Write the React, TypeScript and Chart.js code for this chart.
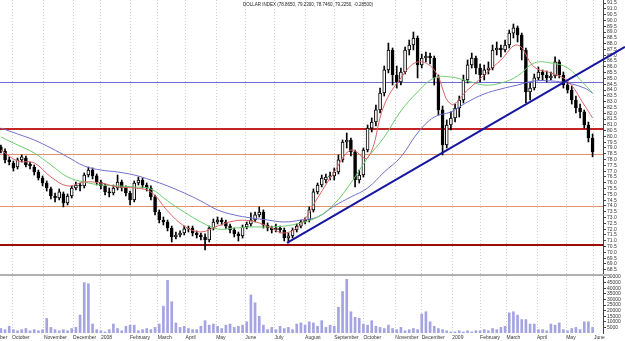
import { useEffect, useRef } from 'react';
import { Chart, registerables } from 'chart.js';
Chart.register(...registerables);

const title = 'DOLLAR INDEX (78.8650, 79.2300, 78.7460, 79.2250, -0.28500)';

const monthTickDays = [-21, 0, 23, 44, 64, 85, 105, 125, 147, 168, 189, 211, 232, 253, 276, 295, 317, 337, 356, 378, 399, 419];
const monthLabels = ['September', 'October', 'November', 'December', '2008', 'February', 'March', 'April', 'May', 'June', 'July', 'August', 'September', 'October', 'November', 'December', '2009', 'February', 'March', 'April', 'May', 'June'];

const candleDays = Array.from({ length: 143 }, (_, i) => -8 + 3 * i);

const opens = [
  79.09, 78.74, 77.97, 77.71, 77.36, 77.97, 78.14, 77.62, 77.36, 76.93,
  76.41, 75.98, 75.47, 74.86, 74.69, 75.04, 74.26, 74.86, 75.55, 75.81,
  75.73, 76.67, 77.10, 76.59, 76.07, 75.73, 75.21, 75.12, 75.55, 76.07,
  75.55, 75.12, 74.52, 75.98, 76.24, 75.81, 75.55, 74.78, 73.48, 72.79,
  72.62, 72.10, 71.33, 71.50, 71.67, 72.02, 72.10, 71.67, 71.50, 71.33,
  71.07, 72.10, 72.62, 72.79, 72.62, 72.27, 71.93, 71.59, 71.42, 72.19,
  72.45, 72.79, 73.23, 73.48, 72.36, 72.10, 71.93, 72.10, 71.93, 71.24,
  71.42, 71.93, 72.27, 72.62, 72.79, 73.66, 75.21, 75.81, 76.24, 76.50,
  76.59, 76.93, 77.97, 79.52, 79.69, 78.66, 76.24, 76.67, 78.83, 80.72,
  81.24, 82.28, 83.74, 85.73, 87.45, 85.29, 84.69, 85.55, 87.45, 87.88,
  88.48, 86.16, 86.76, 86.93, 86.76, 85.04, 82.28, 79.26, 80.98, 81.59,
  82.45, 83.14, 84.86, 86.16, 86.76, 85.90, 85.29, 85.73, 85.90, 87.45,
  87.62, 87.45, 87.88, 88.91, 89.35, 88.74, 87.45, 83.83, 84.17, 85.04,
  85.55, 85.29, 85.04, 85.21, 86.42, 85.29, 84.43, 84.00, 83.14, 82.45,
  82.11, 80.98, 79.86,
];
const highs = [
  79.26, 78.92, 78.23, 77.88, 78.14, 78.40, 78.31, 77.79, 77.54, 77.10,
  76.59, 76.16, 75.64, 75.12, 75.47, 75.21, 75.04, 75.73, 76.07, 75.98,
  76.85, 77.36, 77.28, 76.76, 76.24, 75.90, 75.55, 75.81, 76.67, 76.24,
  75.73, 75.29, 76.16, 76.50, 76.41, 75.98, 75.73, 74.95, 73.66, 73.05,
  72.79, 72.27, 71.76, 71.85, 72.27, 72.27, 72.27, 71.85, 71.67, 71.59,
  72.27, 72.88, 73.05, 72.97, 72.79, 72.45, 72.10, 71.76, 72.36, 72.62,
  73.40, 73.48, 73.92, 73.66, 72.54, 72.27, 72.45, 72.27, 72.10, 71.67,
  72.10, 72.45, 72.79, 72.97, 73.92, 75.47, 75.98, 76.67, 76.76, 76.93,
  77.28, 78.40, 79.69, 80.29, 79.86, 78.83, 77.10, 79.00, 80.98, 81.59,
  82.71, 84.17, 86.07, 88.05, 87.62, 86.07, 85.90, 87.71, 88.31, 89.00,
  88.66, 87.10, 87.28, 87.19, 86.93, 85.29, 82.62, 81.42, 82.11, 82.79,
  83.48, 85.29, 86.59, 87.19, 86.93, 86.24, 86.16, 86.42, 87.88, 88.14,
  87.88, 88.31, 89.17, 89.69, 89.52, 88.91, 87.62, 84.60, 85.38, 85.98,
  85.73, 85.64, 85.55, 86.85, 86.59, 85.55, 84.69, 84.35, 83.48, 82.79,
  82.28, 81.24, 80.21,
];
const lows = [
  78.57, 77.71, 77.54, 77.02, 77.19, 77.79, 77.36, 77.19, 76.67, 76.24,
  75.73, 75.29, 74.60, 74.35, 74.52, 73.92, 74.09, 74.69, 75.38, 75.29,
  75.55, 76.50, 76.33, 75.81, 75.47, 74.95, 74.78, 74.95, 75.38, 75.29,
  74.86, 74.09, 74.35, 75.81, 75.55, 75.29, 74.52, 73.23, 72.54, 72.36,
  71.85, 70.90, 71.16, 71.33, 71.50, 71.76, 71.42, 71.24, 71.07, 70.21,
  70.90, 71.93, 72.45, 72.36, 72.02, 71.67, 71.33, 70.98, 71.24, 72.02,
  72.27, 72.62, 73.05, 72.10, 71.85, 71.67, 71.76, 71.67, 70.98, 70.81,
  71.24, 71.76, 72.10, 72.45, 72.62, 73.48, 75.04, 75.64, 75.98, 76.24,
  76.24, 76.76, 77.79, 79.00, 78.31, 75.64, 75.98, 76.50, 78.66, 80.38,
  80.90, 82.02, 83.48, 85.47, 84.43, 84.17, 84.43, 85.38, 87.02, 87.45,
  85.04, 85.90, 86.42, 86.24, 84.43, 81.85, 78.40, 79.00, 80.55, 81.24,
  81.67, 82.88, 84.60, 85.90, 85.38, 84.69, 84.86, 85.38, 85.73, 87.02,
  86.85, 87.28, 87.62, 88.48, 88.14, 86.59, 82.88, 83.14, 84.00, 84.86,
  84.86, 84.69, 84.86, 85.04, 85.04, 84.17, 83.74, 82.79, 82.02, 81.59,
  80.72, 79.52, 78.23,
];
const closes = [
  78.74, 77.97, 77.79, 77.28, 77.97, 78.23, 77.54, 77.45, 76.93, 76.41,
  75.98, 75.55, 74.86, 74.69, 75.21, 74.26, 74.86, 75.55, 75.81, 75.73,
  76.67, 77.10, 76.59, 76.07, 75.73, 75.21, 75.12, 75.55, 76.07, 75.55,
  75.12, 74.52, 75.98, 76.24, 75.81, 75.55, 74.78, 73.48, 72.79, 72.62,
  72.10, 71.33, 71.50, 71.67, 72.02, 72.10, 71.67, 71.50, 71.33, 71.07,
  72.10, 72.62, 72.79, 72.62, 72.27, 71.93, 71.59, 71.42, 72.19, 72.45,
  72.79, 73.23, 73.48, 72.36, 72.10, 71.93, 72.10, 71.93, 71.24, 71.42,
  71.93, 72.27, 72.62, 72.79, 73.66, 75.21, 75.81, 76.41, 76.50, 76.59,
  76.93, 77.97, 79.52, 79.69, 78.66, 76.24, 76.67, 78.83, 80.72, 81.24,
  82.28, 83.74, 85.73, 87.45, 85.29, 84.69, 85.55, 87.45, 87.88, 88.48,
  86.16, 86.76, 86.93, 86.76, 85.04, 82.28, 79.26, 80.98, 81.59, 82.45,
  83.14, 84.86, 86.16, 86.76, 85.90, 85.29, 85.73, 85.90, 87.45, 87.62,
  87.45, 87.88, 88.91, 89.35, 88.74, 87.45, 83.83, 84.17, 85.04, 85.55,
  85.29, 85.04, 85.21, 86.42, 85.29, 84.43, 84.00, 83.14, 82.45, 82.11,
  80.98, 79.86, 78.66,
];
const volumes = [
  4000, 3000, 6000, 3000, 2000, 3000, 4000, 2000, 3000, 2000,
  3000, 13000, 5000, 3000, 2000, 3000, 2000, 4000, 5000, 16000,
  45000, 44000, 8000, 3000, 2000, 1000, 3000, 8000, 4000, 2000,
  6000, 7000, 7000, 2000, 3000, 4000, 3000, 5000, 8000, 24000,
  47000, 28000, 9000, 5000, 6000, 4000, 3000, 3000, 6000, 11000,
  7000, 8000, 6000, 4000, 7000, 8000, 5000, 6000, 7000, 10000,
  34000, 27000, 15000, 7000, 3000, 5000, 3000, 6000, 4000, 5000,
  3000, 8000, 9000, 7000, 10000, 9000, 6000, 11000, 5000, 7000,
  6000, 23000, 37000, 48000, 19000, 14000, 13000, 8000, 7000, 11000,
  6000, 5000, 4000, 7000, 4000, 3000, 5000, 2000, 3000, 4000,
  3000, 17000, 19000, 10000, 6000, 4000, 3000, 2000, 1000, 1000,
  2000, 1000, 2000, 1000, 2000, 2000, 3000, 2000, 4000, 3000,
  5000, 6000, 18000, 19000, 16000, 12000, 12000, 8000, 8000, 3000,
  3000, 2000, 8000, 7000, 9000, 3000, 2000, 4000, 5000, 3000,
  10000, 10000, 5000,
];

const maDays = [...Array.from({ length: 36 }, (_, k) => -8 + 12 * k), 418];
const maShort = [
  78.83, 77.88, 77.71, 76.50, 75.73, 76.07, 75.98, 75.64, 75.55, 75.21,
  73.57, 72.27, 71.76, 72.27, 72.71, 72.71, 72.27, 71.67, 72.45, 74.69,
  76.93, 78.83, 78.14, 82.71, 85.04, 86.42, 85.73, 82.79, 84.00, 85.29,
  86.59, 87.88, 85.98, 85.47, 84.78, 82.71, 81.59,
];
const maMid = [
  79.95, 79.26, 78.57, 77.54, 76.50, 76.07, 75.81, 75.73, 75.64, 75.47,
  74.43, 73.48, 72.62, 72.02, 72.10, 72.19, 72.19, 72.27, 72.54, 73.05,
  74.17, 75.98, 78.14, 79.95, 82.19, 83.83, 85.04, 85.12, 84.78, 84.43,
  84.60, 85.21, 86.33, 86.33, 85.90, 84.52, 83.74,
];
const maLong = [
  80.72, 80.21, 79.69, 79.00, 78.23, 77.45, 77.10, 76.93, 76.67, 76.24,
  75.73, 75.12, 74.43, 73.66, 73.23, 72.97, 72.79, 72.62, 72.79, 73.05,
  74.00, 74.78, 75.55, 76.93, 78.23, 80.29, 81.67, 82.11, 82.97, 83.66,
  84.09, 84.43, 84.78, 84.78, 84.60, 84.17, 83.74,
];

const levelValues = [84.69, 80.6, 78.48, 73.96, 70.64];
const levelStyles = [
  { color: '#6c6cd4', width: 1 },
  { color: '#c42424', width: 2 },
  { color: '#e4926c', width: 1 },
  { color: '#e4926c', width: 1 },
  { color: '#9c0a0a', width: 2 },
];

const trendDays = [198, 441.3];
const trendValues = [70.81, 87.71];

const priceTicks = [68.5, 69, 69.5, 70, 70.5, 71, 71.5, 72, 72.5, 73, 73.5, 74, 74.5, 75, 75.5, 76, 76.5, 77, 77.5, 78, 78.5, 79, 79.5, 80, 80.5, 81, 81.5, 82, 82.5, 83, 83.5, 84, 84.5, 85, 85.5, 86, 86.5, 87, 87.5, 88, 88.5, 89, 89.5, 90, 90.5, 91, 91.5];
const volumeTicks = [5000, 10000, 15000, 20000, 25000, 30000, 35000, 40000, 45000, 50000];

const FONT = 'Liberation Sans';

export default function App() {
  const ref = useRef<HTMLCanvasElement | null>(null);

  useEffect(() => {
    if (!ref.current) return;
    document.body.style.margin = '0';

    const overlay = {
      id: 'overlay',
      beforeDatasetsDraw(chart: any) {
        const { ctx, chartArea, scales } = chart;
        ctx.save();
        levelValues.forEach((v, i) => {
          const py = Math.round(scales.y.getPixelForValue(v)) + (levelStyles[i].width === 1 ? 0.5 : 0);
          ctx.strokeStyle = levelStyles[i].color;
          ctx.lineWidth = levelStyles[i].width;
          ctx.beginPath();
          ctx.moveTo(chartArea.left, py);
          ctx.lineTo(chartArea.right, py);
          ctx.stroke();
        });
        ctx.restore();
      },
      afterDraw(chart: any) {
        const { ctx, chartArea, scales } = chart;
        const sep = scales.y.bottom;
        ctx.save();
        ctx.strokeStyle = '#b0b0b0';
        ctx.lineWidth = 2;
        ctx.beginPath();
        ctx.moveTo(0, sep);
        ctx.lineTo(chartArea.right + 8, sep);
        ctx.stroke();
        ctx.fillStyle = '#222';
        ctx.font = `4.5px "${FONT}"`;
        ctx.textAlign = 'center';
        ctx.textBaseline = 'middle';
        ctx.fillText(title, 308, 5);
        ctx.restore();
      },
    };

    const yTickFont = { size: 5, family: FONT };

    const chart = new Chart(ref.current, {
      type: 'bar',
      data: {
        datasets: [
          {
            type: 'line',
            data: trendDays.map((d, i) => ({ x: d, y: trendValues[i] })),
            borderColor: '#1616a0',
            borderWidth: 2,
            pointRadius: 0,
            yAxisID: 'y',
            clip: false,
            order: 0,
          } as any,
          {
            type: 'line',
            data: maDays.map((d, i) => ({ x: d, y: maShort[i] })),
            borderColor: '#dc6464',
            borderWidth: 1,
            pointRadius: 0,
            tension: 0.4,
            yAxisID: 'y',
            order: 1,
          },
          {
            type: 'line',
            data: maDays.map((d, i) => ({ x: d, y: maMid[i] })),
            borderColor: '#6ccc6c',
            borderWidth: 1,
            pointRadius: 0,
            tension: 0.4,
            yAxisID: 'y',
            order: 1,
          },
          {
            type: 'line',
            data: maDays.map((d, i) => ({ x: d, y: maLong[i] })),
            borderColor: '#7070cc',
            borderWidth: 1,
            pointRadius: 0,
            tension: 0.4,
            yAxisID: 'y',
            order: 1,
          },
          {
            type: 'bar',
            data: candleDays.map((d, i) => ({ x: d, y: [opens[i], closes[i]] })),
            backgroundColor: closes.map((c, i) => (c >= opens[i] ? '#ffffff' : '#000000')),
            borderColor: '#000000',
            borderWidth: 1,
            borderSkipped: false,
            barThickness: 3,
            grouped: false,
            yAxisID: 'y',
            order: 2,
          } as any,
          {
            type: 'bar',
            data: candleDays.map((d, i) => ({ x: d, y: [lows[i], highs[i]] })),
            backgroundColor: '#000000',
            borderWidth: 0,
            barThickness: 1,
            grouped: false,
            yAxisID: 'y',
            order: 3,
          } as any,
          {
            type: 'bar',
            data: candleDays.map((d, i) => ({ x: d, y: volumes[i] })),
            backgroundColor: '#a4a4e2',
            borderWidth: 0,
            barThickness: 2,
            grouped: false,
            yAxisID: 'yv',
            order: 4,
          } as any,
        ],
      },
      options: {
        animation: false,
        responsive: false,
        devicePixelRatio: 1,
        events: [],
        layout: { padding: 0 },
        plugins: {
          legend: { display: false },
          tooltip: { enabled: false },
          title: { display: false },
        },
        scales: {
          x: {
            type: 'linear',
            min: -8.64,
            max: 425.5,
            offset: false,
            bounds: 'data',
            afterBuildTicks: (s: any) => {
              s.ticks = monthTickDays.map((v) => ({ value: v }));
            },
            afterFit: (s: any) => {
              s.height = 8;
              s.paddingLeft = 0;
              s.paddingRight = 0;
            },
            ticks: {
              autoSkip: false,
              maxRotation: 0,
              minRotation: 0,
              align: 'start',
              padding: 2,
              color: '#333',
              font: { size: 5, family: FONT },
              callback: (_v: any, i: number) => monthLabels[i],
            },
            grid: { color: '#d4d4d4', drawTicks: false, lineWidth: 1, offset: false },
            border: { display: false, dash: [1, 2] },
          } as any,
          y: {
            type: 'linear',
            position: 'right',
            stack: 'main',
            stackWeight: 275,
            weight: 1,
            min: 68.05,
            max: 91.76,
            bounds: 'data',
            afterBuildTicks: (s: any) => {
              s.ticks = priceTicks.map((v) => ({ value: v }));
            },
            afterFit: (s: any) => {
              s.width = 22;
              s.paddingTop = 0;
              s.paddingBottom = 0;
            },
            ticks: {
              autoSkip: false,
              padding: 1,
              color: '#333',
              font: yTickFont,
              callback: (v: any) => Number(v).toFixed(1),
            },
            grid: { drawOnChartArea: false, drawTicks: true, tickLength: 3, color: '#444' },
            border: { display: true, color: '#444', width: 1 },
          } as any,
          yv: {
            type: 'linear',
            axis: 'y',
            position: 'right',
            stack: 'main',
            stackWeight: 58,
            weight: 2,
            min: 0,
            max: 51800,
            bounds: 'data',
            afterBuildTicks: (s: any) => {
              s.ticks = volumeTicks.map((v) => ({ value: v }));
            },
            afterFit: (s: any) => {
              s.width = 22;
              s.paddingTop = 0;
              s.paddingBottom = 0;
            },
            ticks: {
              autoSkip: false,
              padding: 1,
              color: '#333',
              font: yTickFont,
              callback: (v: any) => String(v),
            },
            grid: { drawOnChartArea: false, drawTicks: true, tickLength: 3, color: '#444' },
            border: { display: true, color: '#444', width: 1 },
          } as any,
        },
      } as any,
      plugins: [overlay],
    });

    return () => chart.destroy();
  }, []);

  return (
    <div style={{ position: 'absolute', left: 0, top: 0, width: 625, height: 341, background: '#fff' }}>
      <canvas ref={ref} width={625} height={341} style={{ display: 'block', width: 625, height: 341 }} />
    </div>
  );
}
